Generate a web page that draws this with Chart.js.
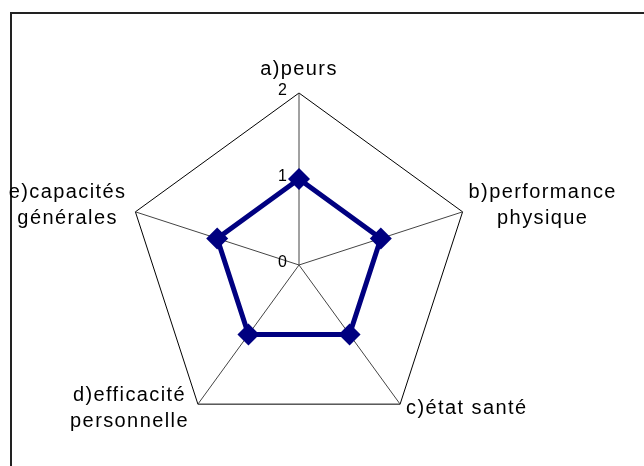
<!DOCTYPE html>
<html>
<head>
<meta charset="utf-8">
<script src="https://cdn.jsdelivr.net/npm/chart.js@4"></script>
<style>
  html, body { margin: 0; padding: 0; background: #fff; }
  #wrap { position: relative; width: 644px; height: 466px; overflow: hidden; }
  #frame { position: absolute; left: 10px; top: 12px; width: 700px; height: 500px;
           border-left: 2px solid #222; border-top: 2px solid #222; }
  #c { position: absolute; left: 0; top: 0; }
</style>
</head>
<body>
<div id="wrap">
  <div id="frame"></div>
  <canvas id="c" width="644" height="466"></canvas>
</div>
<script>
// data
var categories = ['a)peurs', ['b)performance', 'physique'], 'c)état santé', ['d)efficacité', 'personnelle'], ['e)capacités', 'générales']]
var values = [1, 1, 1, 1, 1]
var tickValues = [0, 1, 2]

var labelFont = '20px "Liberation Sans", Arial, sans-serif'

// draws the axis labels and tick numbers with the scale's own positions
var labelsPlugin = {
  id: 'labels',
  afterDatasetsDraw: function(chart){
    var scale = chart.scales.r
    var ctx = chart.ctx
    var max = tickValues[tickValues.length - 1]
    ctx.save()
    ctx.fillStyle = '#000'
    ctx.font = labelFont
    ctx.letterSpacing = '1.4px'
    ctx.textBaseline = 'middle'
    categories.forEach(function(cat, i){
      var lines = Array.isArray(cat) ? cat : [cat]
      var p = scale.getPointPositionForValue(i, max)
      var dx = p.x - scale.xCenter
      var lh = 26
      var widths = lines.map(function(l){ return ctx.measureText(l).width })
      var bw = Math.max.apply(null, widths)
      var cx, cy
      if (Math.abs(dx) < 2) { cx = p.x; cy = p.y - 24 }
      else if (dx > 0) { cx = p.x + 6 + bw / 2 }
      else { cx = p.x - 9 - bw / 2 }
      if (Math.abs(dx) >= 2) cy = p.y < scale.yCenter ? p.y - 6 : p.y + 4
      ctx.textAlign = 'center'
      lines.forEach(function(l, k){
        ctx.fillText(l, cx, cy + (k - (lines.length - 1) / 2) * lh)
      })
    })
    ctx.letterSpacing = '0px'
    ctx.font = '16px "Liberation Sans", Arial, sans-serif'
    ctx.textAlign = 'right'
    tickValues.forEach(function(v){
      var p = scale.getPointPositionForValue(0, v)
      ctx.fillText(String(v), p.x - 12, p.y - 2)
    })
    ctx.restore()
  }
}

var chart = new Chart(document.getElementById('c').getContext('2d'), {
  type: 'radar',
  data: {
    labels: categories,
    datasets: [{
      data: values,
      borderColor: '#000080',
      borderWidth: 5,
      backgroundColor: 'transparent',
      fill: false,
      pointStyle: 'rectRot',
      pointRadius: 11,
      pointBackgroundColor: '#000080',
      pointBorderColor: '#000080',
      pointBorderWidth: 0
    }]
  },
  options: {
    responsive: false,
    animation: false,
    layout: { padding: { top: 93, bottom: 29, left: 99, right: 145 } },
    plugins: { legend: { display: false }, tooltip: { enabled: false } },
    elements: { line: { tension: 0 } },
    scales: {
      r: {
        min: 0,
        max: 2,
        ticks: { display: false, stepSize: 1 },
        pointLabels: { display: false },
        grid: {
          color: function(c){ return c.tick && c.tick.value === 2 ? '#000' : 'rgba(0,0,0,0)' },
          lineWidth: 1
        },
        angleLines: { color: '#444', lineWidth: 1 }
      }
    }
  },
  plugins: [labelsPlugin]
})
</script>
</body>
</html>
